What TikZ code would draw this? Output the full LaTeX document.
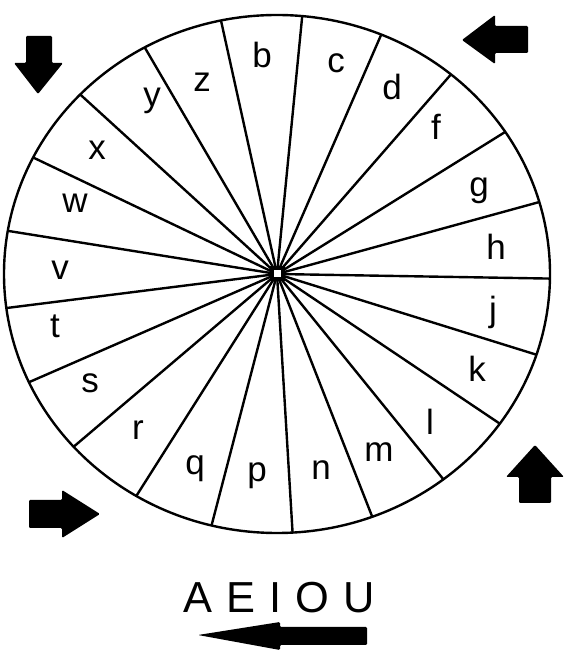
\documentclass[tikz,border=0pt]{standalone}
\usepackage{fontspec}
\setmainfont{Liberation Sans}
\tikzset{
	letter/.style={anchor=base, inner sep=0pt, font=\fontsize{17.5}{20}\selectfont},
	blockarrow/.style={fill=black, rounded corners=0.6pt},
}
\begin{document}
\begin{tikzpicture}[x=0.5pt, y=0.5pt]
			%%%%% START %%%%%
			\useasboundingbox (0, 0) rectangle (574, 658);
			
			\coordinate (hub) at (277, 384);
			\draw[line width=1.2pt] (hub) ellipse [x radius=136.5pt, y radius=129.5pt];
			
			\foreach \k in {0,...,20}
				\draw[line width=1.2pt] (hub) -- ({277+273*cos(84.7-17.143*\k)}, {384+259*sin(84.7-17.143*\k)});
			
			\node[draw, line width=2pt, fill=white, minimum size=5.5pt, inner sep=0pt] (hubbox) at (hub) {};
			
			\foreach \l/\px/\py in {b/262/590, c/336/585, d/392/558, f/436/518, g/479/461,
				h/496/398, j/493/336, k/477/276, l/430/223, m/379/196, n/321/178,
				p/257/176, q/195/183, r/138/218, s/90/265, t/55/320, v/60/378,
				w/75/445, x/97/498, y/152/551, z/202/566}
				\node[letter] (\l) at (\px, \py) {\l};
			
			\node[anchor=base, inner sep=0pt, font=\fontsize{21.7}{24}\selectfont] (vowels) at (279, 45) {\spaceskip=7pt\relax A E I O U};
			
			% arrows round the wheel
			\fill[blockarrow] (26, 622) -- (52, 622) -- (52, 595) -- (63, 595) -- (38, 564) -- (14, 595) -- (26, 595) -- cycle;
			\fill[blockarrow] (528, 632) -- (495, 632) -- (495, 643) -- (462, 618) -- (495, 594) -- (495, 605) -- (528, 605) -- cycle;
			\fill[blockarrow] (29, 158) -- (62, 158) -- (62, 168) -- (100, 144) -- (62, 120) -- (62, 130) -- (29, 130) -- cycle;
			\fill[blockarrow] (519, 155) -- (551, 155) -- (551, 181) -- (564, 181) -- (535, 213) -- (506, 181) -- (519, 181) -- cycle;
			
			\fill[blockarrow] (367, 31) -- (280, 31) -- (280, 36) -- (198, 23) -- (280, 8) -- (280, 13) -- (367, 13) -- cycle;
			
			%%%%% END %%%%%
\end{tikzpicture}
\end{document}
